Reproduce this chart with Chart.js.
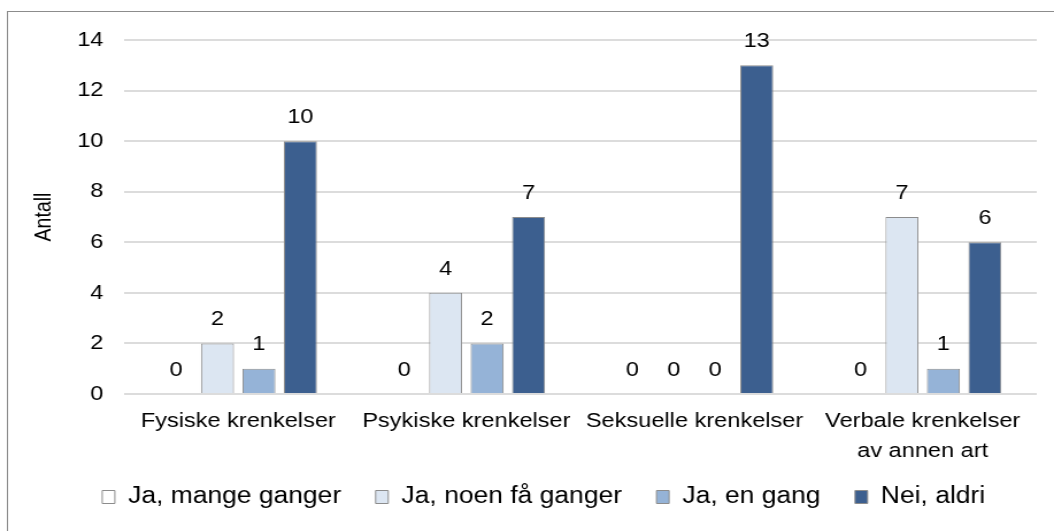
<!DOCTYPE html>
<html>
<head>
<meta charset="utf-8">
<script src="https://cdn.jsdelivr.net/npm/chart.js@4/dist/chart.umd.min.js"></script>
<style>
  body { margin: 0; background: #fff; }
</style>
</head>
<body>
<canvas id="chart" width="917" height="531" style="display:block;width:1054px;height:531px"></canvas>
<script>
// categories and series
const categories = [
  "Fysiske krenkelser",
  "Psykiske krenkelser",
  "Seksuelle krenkelser",
  ["Verbale krenkelser", "av annen art"],
];
const seriesNames = ["Ja, mange ganger", "Ja, noen få ganger", "Ja, en gang", "Nei, aldri"];
const mangeGanger = [0, 0, 0, 0];
const noenFaGanger = [2, 4, 0, 7];
const enGang = [1, 2, 0, 1];
const neiAldri = [10, 7, 13, 6];
const yTicks = [0, 2, 4, 6, 8, 10, 12, 14];

const seriesColors = ["#FFFFFF", "#DCE6F2", "#95B3D7", "#3C5F8F"];
const edge = "#8C8C8C";
const fontFamily = "'Liberation Sans', Arial, sans-serif";

// outer frame
const framePlugin = {
  id: "frame",
  beforeDraw: (chart) => {
    const { ctx } = chart;
    ctx.save();
    ctx.fillStyle = "white";
    ctx.fillRect(0, 0, chart.width, chart.height);
    ctx.strokeStyle = edge;
    ctx.lineWidth = 1;
    ctx.strokeRect(6.5, 11.5, chart.width + 10, chart.height + 10);
    ctx.restore();
  },
  // nudge the legend row up and a bit to the right
  afterLayout: (chart) => {
    const lg = chart.legend;
    lg.top -= 8.5;
    lg.bottom -= 8.5;
    lg.left += 6;
    lg.right += 6;
  },
};

// value labels above bars
const valueLabels = {
  id: "valueLabels",
  afterDatasetsDraw: (chart) => {
    const { ctx } = chart;
    ctx.save();
    ctx.font = "20.5px " + fontFamily;
    ctx.fillStyle = "#000";
    ctx.textAlign = "center";
    ctx.textBaseline = "middle";
    chart.data.datasets.forEach((ds, i) => {
      chart.getDatasetMeta(i).data.forEach((bar, j) => {
        ctx.fillText(String(ds.data[j]), bar.x, bar.y - 24);
      });
    });
    ctx.restore();
  },
};

const seriesData = [mangeGanger, noenFaGanger, enGang, neiAldri];

const data = {
  labels: categories,
  datasets: seriesNames.map((name, i) => ({
    label: name,
    data: seriesData[i],
    backgroundColor: seriesColors[i],
    borderColor: edge,
    borderWidth: 1,
    categoryPercentage: 0.727,
    barPercentage: 0.795,
  })),
};

const config = {
  type: "bar",
  data,
  plugins: [framePlugin, valueLabels],
  options: {
    responsive: false,
    animation: false,
    layout: {
      padding: { left: 32, right: 15, top: 40, bottom: 4 },
    },
    plugins: {
      legend: {
        position: "bottom",
        labels: {
          boxWidth: 11,
          boxHeight: 13,
          padding: 30,
          color: "#000",
          font: { family: fontFamily, size: 23 },
        },
      },
      tooltip: { enabled: false },
    },
    scales: {
      x: {
        grid: { display: false, drawTicks: false },
        border: { display: false },
        ticks: {
          color: "#000",
          padding: 12,
          maxRotation: 0,
          autoSkip: false,
          font: { family: fontFamily, size: 20.5, lineHeight: "30px" },
        },
        afterFit: (scale) => {
          scale.height = 70;
        },
      },
      y: {
        min: 0,
        max: 14,
        afterBuildTicks: (scale) => {
          scale.ticks = yTicks.map((v) => ({ value: v }));
        },
        grid: { color: "#DCDCDC", lineWidth: 2, drawTicks: false },
        border: { display: false },
        ticks: {
          color: "#000",
          padding: 18,
          font: { family: fontFamily, size: 20.5 },
        },
        title: {
          display: true,
          text: "Antall",
          color: "#000",
          padding: 0,
          font: { family: fontFamily, size: 19.5, lineHeight: "14px" },
        },
        afterFit: (scale) => {
          scale.width = 76;
        },
      },
    },
  },
};

const krenkelserChart = new Chart(document.getElementById("chart"), config);
</script>
</body>
</html>
